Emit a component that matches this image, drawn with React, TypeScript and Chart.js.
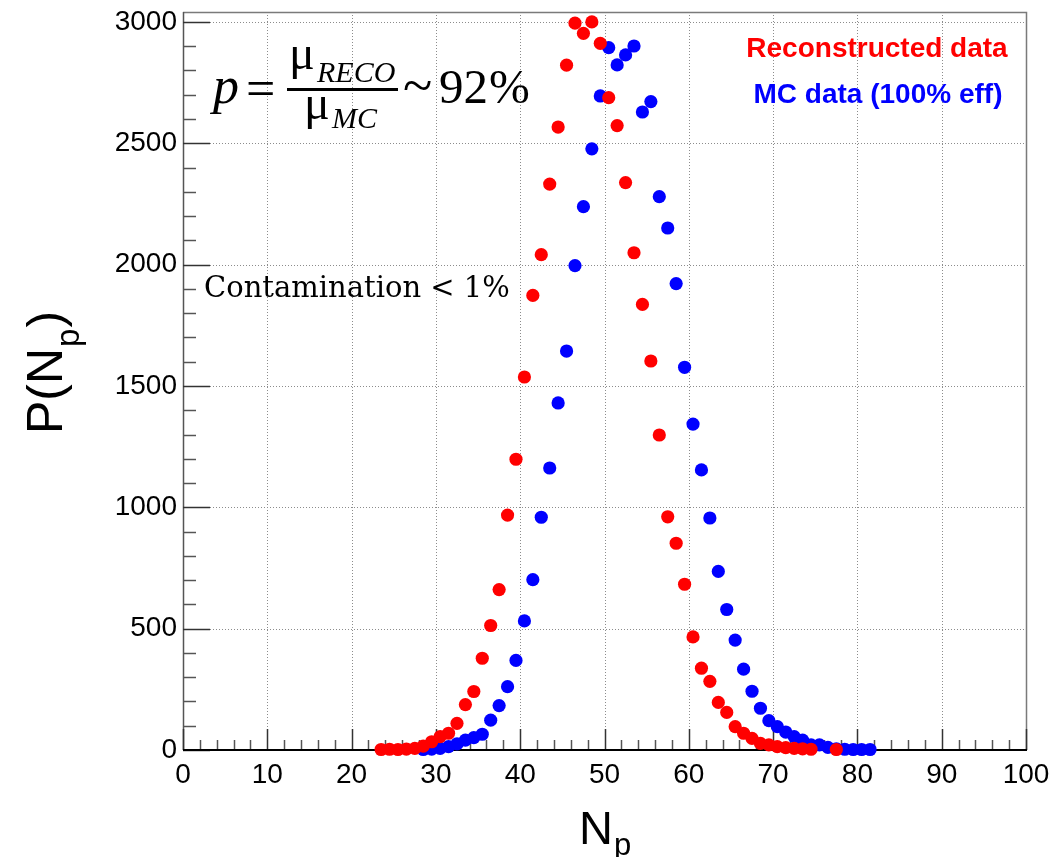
import React, { useEffect, useRef } from "react";
import { Chart, registerables } from "chart.js";

Chart.register(...registerables);

// ---- data ----
const recoNp = [23, 24, 25, 26, 27, 28, 29, 30, 31, 32, 33, 34, 35, 36, 37, 38, 39, 40, 41, 42, 43, 44, 45, 46, 47, 48, 49, 50, 51, 52, 53, 54, 55, 56, 57, 58, 59, 60, 61, 62, 63, 64, 65, 66, 67, 68, 69, 70, 71, 72, 73, 74, 77];
const recoCounts = [2, 3, 2, 4, 7, 16, 34, 55, 69, 110, 187, 241, 378, 513, 661, 968, 1198, 1537, 1873, 2041, 2332, 2567, 2822, 2995, 2953, 3000, 2912, 2688, 2573, 2338, 2049, 1836, 1603, 1298, 961, 852, 683, 466, 337, 283, 196, 155, 96, 69, 48, 27, 21, 14, 10, 7, 5, 3, 2];

const mcNp = [28, 29, 30, 31, 32, 33, 34, 35, 36, 37, 38, 39, 40, 41, 42, 43, 44, 45, 46, 47, 48, 49, 50, 51, 52, 53, 54, 55, 56, 57, 58, 59, 60, 61, 62, 63, 64, 65, 66, 67, 68, 69, 70, 71, 72, 73, 74, 75, 76, 77, 78, 79, 80, 81];
const mcCounts = [2, 4, 7, 14, 25, 41, 51, 65, 123, 183, 261, 369, 532, 702, 959, 1162, 1430, 1644, 1996, 2239, 2477, 2695, 2894, 2823, 2864, 2901, 2629, 2672, 2280, 2151, 1922, 1577, 1343, 1154, 956, 736, 579, 453, 333, 242, 172, 121, 96, 74, 55, 41, 21, 21, 11, 5, 3, 2, 2, 2];

const xTickValues = [0, 10, 20, 30, 40, 50, 60, 70, 80, 90, 100];
const yTickValues = [0, 500, 1000, 1500, 2000, 2500, 3000];

const seriesLabels = ["Reconstructed data", "MC data (100% eff)"];
const seriesColors = ["#ff0000", "#0000ff"];
const contaminationText = "Contamination < 1%";

const X_MIN = 0;
const X_MAX = 100;
const Y_MIN = 0;
const Y_MAX = 3041;

const SANS = "'Liberation Sans', Arial, Helvetica, sans-serif";
const SERIF = "'Liberation Serif', 'Times New Roman', serif";

const rootPlugin = {
  id: "rootStyle",
  beforeDatasetsDraw(chart: any) {
    const { ctx, chartArea: a, scales } = chart;
    const xs = scales.x;
    const ys = scales.y;
    ctx.save();
    // dotted grid
    ctx.strokeStyle = "#8c8c8c";
    ctx.lineWidth = 1;
    ctx.setLineDash([1, 2]);
    xTickValues.forEach((v) => {
      if (v === X_MIN || v === X_MAX) return;
      const px = Math.round(xs.getPixelForValue(v)) + 0.5;
      ctx.beginPath();
      ctx.moveTo(px, a.top);
      ctx.lineTo(px, a.bottom);
      ctx.stroke();
    });
    yTickValues.forEach((v) => {
      if (v === Y_MIN) return;
      const py = Math.round(ys.getPixelForValue(v)) + 0.5;
      ctx.beginPath();
      ctx.moveTo(a.left, py);
      ctx.lineTo(a.right, py);
      ctx.stroke();
    });
    ctx.setLineDash([]);

    // frame top/right
    ctx.strokeStyle = "#7a7a7a";
    ctx.lineWidth = 1.5;
    ctx.beginPath();
    ctx.moveTo(a.left, a.top + 0.5);
    ctx.lineTo(a.right + 0.5, a.top + 0.5);
    ctx.lineTo(a.right + 0.5, a.bottom);
    ctx.stroke();

    // left axis
    ctx.strokeStyle = "#555";
    ctx.lineWidth = 1.5;
    ctx.beginPath();
    ctx.moveTo(a.left + 0.5, a.top);
    ctx.lineTo(a.left + 0.5, a.bottom);
    ctx.stroke();

    // x ticks (inward)
    ctx.lineWidth = 1.5;
    for (let v = X_MIN; v <= X_MAX; v += 2) {
      const px = Math.round(xs.getPixelForValue(v)) + 0.5;
      const major = v % 10 === 0;
      ctx.strokeStyle = major ? "#333" : "#555";
      ctx.beginPath();
      ctx.moveTo(px, a.bottom);
      ctx.lineTo(px, a.bottom - (major ? 21 : 10));
      ctx.stroke();
    }
    // y ticks (inward)
    for (let v = Y_MIN; v <= 3000; v += 100) {
      const py = Math.round(ys.getPixelForValue(v)) + 0.5;
      const major = v % 500 === 0;
      ctx.strokeStyle = major ? "#333" : "#555";
      ctx.beginPath();
      ctx.moveTo(a.left, py);
      ctx.lineTo(a.left + (major ? 27 : 13), py);
      ctx.stroke();
    }

    // bottom axis
    ctx.strokeStyle = "#000";
    ctx.lineWidth = 2;
    ctx.beginPath();
    ctx.moveTo(a.left, a.bottom);
    ctx.lineTo(a.right + 1, a.bottom);
    ctx.stroke();
    ctx.restore();
  },
  afterDraw(chart: any) {
    const { ctx } = chart;
    ctx.save();
    ctx.fillStyle = "#000";
    ctx.textAlign = "left";
    ctx.textBaseline = "alphabetic";

    // x title N_p
    ctx.font = `47px ${SANS}`;
    ctx.fillText("N", 579, 844);
    const nW = ctx.measureText("N").width;
    ctx.font = `31px ${SANS}`;
    ctx.fillText("p", 579 + nW + 1, 855);

    // y title P(N_p)
    ctx.save();
    ctx.translate(62, 434);
    ctx.rotate(-Math.PI / 2);
    ctx.font = `50px ${SANS}`;
    ctx.fillText("P(N", 0, 0);
    let w = ctx.measureText("P(N").width;
    ctx.font = `33px ${SANS}`;
    ctx.fillText("p", w + 1, 17);
    w += ctx.measureText("p").width + 2;
    ctx.font = `50px ${SANS}`;
    ctx.fillText(")", w, 0);
    ctx.restore();

    // formula
    ctx.font = `italic 52px ${SERIF}`;
    ctx.fillText("p", 213, 103);
    ctx.font = `52px ${SERIF}`;
    ctx.fillText("=", 246, 106);
    ctx.fillRect(287, 88, 111, 3);
    ctx.font = `48px ${SERIF}`;
    ctx.fillText("\u03bc", 289, 69);
    ctx.fillText("\u03bc", 304, 119);
    ctx.font = `italic 30px ${SERIF}`;
    ctx.fillText("RECO", 317, 82);
    ctx.fillText("MC", 332, 128);
    ctx.font = `54px ${SERIF}`;
    ctx.fillText("~", 403, 104);
    ctx.font = `49px ${SERIF}`;
    ctx.fillText("92", 439, 103);
    ctx.fillText("%", 489, 103);

    // contamination
    ctx.font = `29px 'DejaVu Serif', serif`;
    ctx.fillText(contaminationText, 204, 297);

    // legend texts
    ctx.textAlign = "center";
    ctx.font = `bold 28px ${SANS}`;
    ctx.fillStyle = seriesColors[0];
    ctx.fillText(seriesLabels[0], 877, 57);
    ctx.fillStyle = seriesColors[1];
    ctx.fillText(seriesLabels[1], 878, 103);
    ctx.restore();
  },
};

export default function App() {
  const ref = useRef<HTMLCanvasElement | null>(null);

  useEffect(() => {
    if (!ref.current) return;
    const chart = new Chart(ref.current, {
      type: "scatter",
      data: {
        datasets: [
          {
            label: seriesLabels[0],
            data: recoNp.map((n, i) => ({ x: n + 0.5, y: recoCounts[i] })),
            backgroundColor: seriesColors[0],
            borderColor: seriesColors[0],
            borderWidth: 0,
            pointRadius: 6.6,
            clip: false,
          },
          {
            label: seriesLabels[1],
            data: mcNp.map((n, i) => ({ x: n + 0.5, y: mcCounts[i] })),
            backgroundColor: seriesColors[1],
            borderColor: seriesColors[1],
            borderWidth: 0,
            pointRadius: 6.6,
            clip: false,
          },
        ],
      },
      options: {
        animation: false,
        responsive: false,
        devicePixelRatio: 1,
        layout: { padding: { top: 12, right: 33, left: 0, bottom: 0 } },
        plugins: { legend: { display: false }, tooltip: { enabled: false } },
        events: [],
        scales: {
          x: {
            type: "linear",
            min: X_MIN,
            max: X_MAX,
            afterBuildTicks: (axis: any) => {
              axis.ticks = xTickValues.map((v) => ({ value: v }));
            },
            afterFit: (axis: any) => {
              axis.height = 107;
              axis.paddingLeft = 0;
              axis.paddingRight = 0;
            },
            grid: { display: false, drawTicks: false },
            border: { display: false },
            ticks: {
              autoSkip: false,
              maxRotation: 0,
              padding: 8,
              color: "#000",
              font: { family: "Liberation Sans", size: 28 },
              callback: (v: any) => String(v),
            },
          },
          y: {
            type: "linear",
            min: Y_MIN,
            max: Y_MAX,
            afterBuildTicks: (axis: any) => {
              axis.ticks = yTickValues.map((v) => ({ value: v }));
            },
            afterFit: (axis: any) => {
              axis.width = 183;
              axis.paddingTop = 0;
              axis.paddingBottom = 0;
            },
            grid: { display: false, drawTicks: false },
            border: { display: false },
            ticks: {
              autoSkip: false,
              padding: 6,
              color: "#000",
              font: { family: "Liberation Sans", size: 28 },
              callback: (v: any) => String(v),
            },
          },
        },
      },
      plugins: [rootPlugin],
    });
    return () => chart.destroy();
  }, []);

  return (
    <div style={{ position: "fixed", left: 0, top: 0, width: 1059, height: 857, background: "#fff" }}>
      <canvas ref={ref} width={1059} height={857} style={{ display: "block" }} />
    </div>
  );
}
